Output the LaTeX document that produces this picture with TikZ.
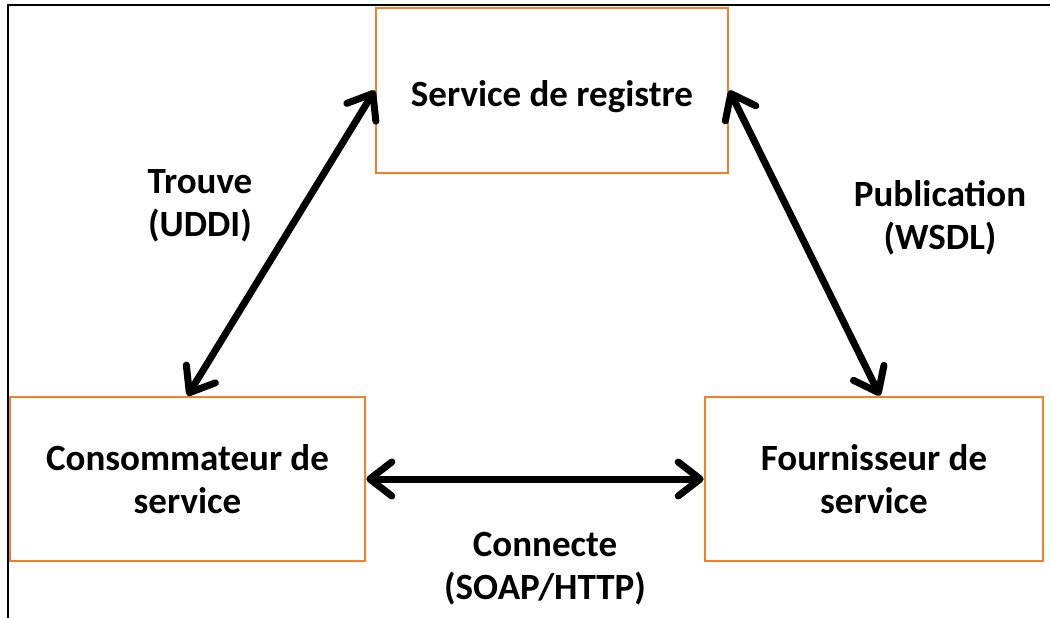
\documentclass[tikz,border=0pt]{standalone}
\usepackage{fontspec}
\setmainfont{Carlito}
\usetikzlibrary{arrows.meta}
\definecolor{boxorange}{RGB}{240,128,45}
\tikzset{
  box/.style={draw=boxorange, line width=2.6pt, fill=white, align=center, inner sep=0pt,
    font=\bfseries\fontsize{37}{43}\selectfont},
  lbl/.style={align=center, inner sep=0pt, font=\bfseries\fontsize{37}{43}\selectfont},
  link/.style={line width=7pt, {Straight Barb[length=22pt,width=34pt,round]}-{Straight Barb[length=22pt,width=34pt,round]}},
  frame/.style={line width=2pt, black}
}
\begin{document}
\begin{tikzpicture}[x=1pt,y=-1pt]
\useasboundingbox (0,0) rectangle (1050,618);
\fill[white] (0,0) rectangle (1050,618);
\draw[frame] (1050,5) -- (8,5) -- (8,618);
\node[box, minimum width=352pt, minimum height=165pt] (reg) at (552,90.5) {\raisebox{-6pt}[\height][\depth]{Service de registre}};
\node[box, minimum width=355pt, minimum height=164pt] (cons) at (187.5,479) {Consommateur de\\service};
\node[box, minimum width=338pt, minimum height=164pt] (four) at (874,479) {Fournisseur de\\service};
\node[lbl] (trouve) at (200,206) {Trouve\\(UDDI)};
\node[lbl] (pub) at (940,218) {Publication\\(WSDL)};
\node[lbl] (conn) at (545,569) {Connecte\\(SOAP/HTTP)};
\draw[link] (reg.west) -- (cons.north);
\draw[link] (reg.east) -- ([xshift=6pt]four.north);
\draw[link] (cons.east) -- (four.west);
\end{tikzpicture}
\end{document}
